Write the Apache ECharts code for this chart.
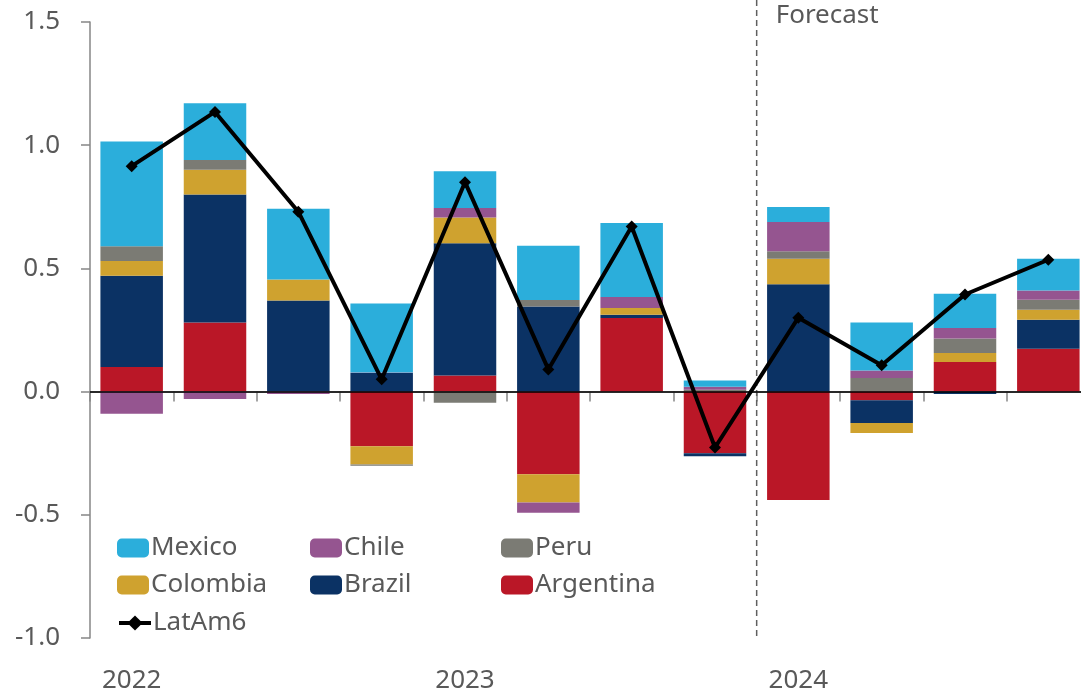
<!DOCTYPE html>
<html>
<head>
<meta charset="utf-8">
<script src="https://cdn.jsdelivr.net/npm/echarts@6/dist/echarts.min.js"></script>
<style>
html,body{margin:0;padding:0;background:#fff;overflow:hidden;width:1081px;height:694px;}
#chart{width:1095px;height:694px;}
</style>
</head>
<body>
<div id="chart"></div>
<script>
// ---- data ----
const categories = ["2022 Q1","2022 Q2","2022 Q3","2022 Q4","2023 Q1","2023 Q2","2023 Q3","2023 Q4","2024 Q1","2024 Q2","2024 Q3","2024 Q4"];
const tickLabels = ["2022","","","","2023","","","","2024","","",""];
const yTicks = [-1.0, -0.5, 0.0, 0.5, 1.0, 1.5];
const argentina = [0.10, 0.28, 0.0, -0.222, 0.065, -0.335, 0.299, -0.25, -0.44, -0.035, 0.12, 0.174];
const brazil    = [0.37, 0.52, 0.37, 0.075, 0.537, 0.345, 0.013, -0.012, 0.436, -0.092, -0.01, 0.118];
const colombia  = [0.06, 0.10, 0.085, -0.074, 0.105, -0.115, 0.027, 0, 0.103, -0.041, 0.037, 0.04];
const peru      = [0.06, 0.04, 0, -0.005, -0.045, 0.027, 0, 0.008, 0.031, 0.055, 0.058, 0.041];
const chile     = [-0.09, -0.03, -0.01, 0.003, 0.038, -0.042, 0.045, 0.012, 0.118, 0.031, 0.043, 0.037];
const mexico    = [0.425, 0.23, 0.287, 0.28, 0.149, 0.22, 0.30, 0.025, 0.061, 0.194, 0.139, 0.129];
const latam6    = [0.915, 1.135, 0.73, 0.05, 0.85, 0.09, 0.67, -0.227, 0.30, 0.107, 0.394, 0.535];
const forecastStartIndex = 8;

const colors = {
  Mexico: "#2BAEDB", Chile: "#955590", Peru: "#7B7B74",
  Colombia: "#CFA22F", Brazil: "#0B3264", Argentina: "#BA1727"
};
const FONT = "Noto Sans";
const FS = 26;
const TXT = "#595959";
const AXIS = "#868686";

const chart = echarts.init(document.getElementById('chart'), null, {renderer:'canvas'});

function bar(name, data) {
  return {
    name, type: 'bar', stack: 'total', data,
    barCategoryGap: '25%',
    itemStyle: { color: colors[name] },
    emphasis: { disabled: true },
    z: 2
  };
}

const legendDefs = [
  {name:'Mexico', left:117, top:535},
  {name:'Chile', left:310, top:535},
  {name:'Peru', left:501, top:535},
  {name:'Colombia', left:117, top:572},
  {name:'Brazil', left:310, top:572},
  {name:'Argentina', left:501, top:572},
  {name:'LatAm6', left:117, top:610}
];

const option = {
  animation: false,
  backgroundColor: '#fff',
  textStyle: { fontFamily: FONT },
  grid: { left: 90, top: 22, width: 1000, height: 617, containLabel: false },
  legend: legendDefs.map(d => ({
    data: [d.name], left: d.left, top: d.top, padding: 0,
    itemWidth: 32, itemHeight: 19, itemGap: 4,
    selectedMode: false,
    lineStyle: { width: 4 },
    textStyle: { fontSize: FS, color: TXT, fontFamily: FONT, padding: [0,0,0,-3] }
  })),
  xAxis: {
    type: 'category', data: categories,
    axisLine: { lineStyle: { color: AXIS, width: 1.5 } },
    axisTick: { show: true, interval: 0, length: 10, lineStyle: { color: AXIS, width: 1.5 } },
    axisLabel: {
      interval: 0, margin: 30, fontSize: FS, color: TXT, fontFamily: FONT,
      formatter: (v, i) => tickLabels[i]
    }
  },
  yAxis: {
    type: 'value', min: yTicks[0], max: yTicks[yTicks.length-1], interval: 0.5,
    axisLine: { show: true, lineStyle: { color: AXIS, width: 1.5 } },
    axisTick: { show: true, length: 9, lineStyle: { color: AXIS, width: 1.5 } },
    splitLine: { show: false },
    axisLabel: { margin: 30, fontSize: FS, color: TXT, fontFamily: FONT,
      formatter: v => v.toFixed(1) }
  },
  series: [
    bar('Argentina', argentina),
    bar('Brazil', brazil),
    bar('Colombia', colombia),
    bar('Peru', peru),
    bar('Chile', chile),
    Object.assign(bar('Mexico', mexico), {
      markLine: {
        silent: true, symbol: ['none','none'], label: { show: false },
        lineStyle: { color: '#000', width: 1.5, type: 'solid' },
        data: [{ yAxis: 0 }], z: 5
      }
    }),
    {
      name: 'LatAm6', type: 'line', data: latam6,
      color: '#000',
      lineStyle: { color: '#000', width: 4 },
      itemStyle: { color: '#000' },
      symbol: 'diamond', symbolSize: 12,
      emphasis: { disabled: true },
      z: 10
    }
  ]
};
chart.setOption(option);

// forecast divider between last actual and first forecast quarter
const x0 = chart.convertToPixel({xAxisIndex:0}, forecastStartIndex - 1);
const x1 = chart.convertToPixel({xAxisIndex:0}, forecastStartIndex);
const xDiv = (x0 + x1) / 2;
const yBottom = chart.convertToPixel({yAxisIndex:0}, yTicks[0]);
chart.setOption({
  graphic: [
    { type: 'line', shape: { x1: xDiv, y1: 0, x2: xDiv, y2: yBottom },
      style: { stroke: '#5f5f5f', lineWidth: 1.5, lineDash: [6, 4] }, z: 1 },
    { type: 'text', left: xDiv + 19, top: 3,
      style: { text: 'Forecast', fill: TXT, font: FS + 'px "' + FONT + '"' }, z: 3 }
  ]
});
</script>
</body>
</html>
